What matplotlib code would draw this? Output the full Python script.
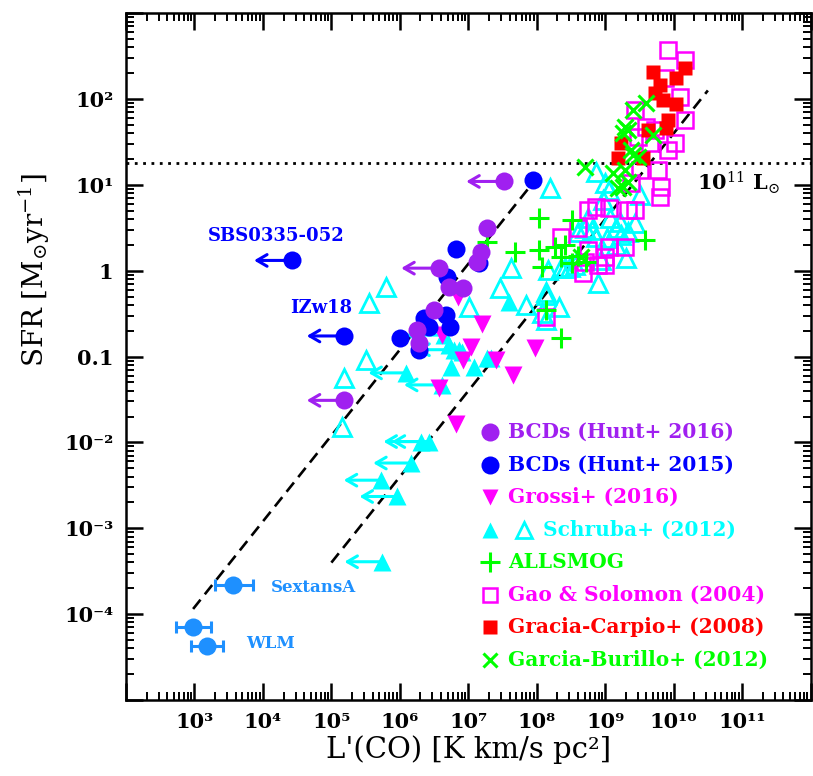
import numpy as np
import matplotlib
matplotlib.use('Agg')
import matplotlib.pyplot as plt

plt.rcParams['font.family'] = ['DejaVu Serif']
plt.rcParams['mathtext.fontset'] = 'dejavuserif'

# all values are log10
# BCDs (Hunt+ 2016)
h16_lco = [7.27, 7.18, 7.12, 6.72, 6.93, 6.50, 6.25, 6.28]
h16_sfr = [0.50, 0.22, 0.10, -0.19, -0.20, -0.46, -0.69, -0.84]
h16_lim_lco = [7.52, 6.57, 5.19]
h16_lim_sfr = [1.04, 0.03, -1.51]

# BCDs (Hunt+ 2015)
h15_lco = [7.95, 6.82, 6.69, 7.15, 6.00, 6.28, 6.43, 6.67, 6.73, 6.35]
h15_sfr = [1.06, 0.25, -0.07, 0.09, -0.78, -0.92, -0.66, -0.52, -0.66, -0.55]
h15_lim_lco = [4.42, 5.19]
h15_lim_sfr = [0.12, -0.76]
h15_lim_names = ['SBS0335-052', 'IZw18']

# local dwarfs with CO
dw_lco = [3.56, 2.975, 3.18]
dw_sfr = [-3.66, -4.15, -4.37]
dw_err_lo = [0.26, 0.25, 0.23]
dw_err_hi = [0.29, 0.26, 0.23]
dw_names = ['SextansA', 'WLM']

# Grossi+ (2016)
gro_lco = [6.85, 7.20, 7.04, 6.93, 6.61, 7.40, 7.66, 7.98, 6.57, 6.82]
gro_sfr = [-0.31, -0.62, -0.89, -1.04, -0.75, -1.04, -1.21, -0.90, -1.37, -1.78]

# Schruba+ (2012) filled: upper limits and detections
sch_lim_lco = [6.31, 6.43, 6.16, 5.73, 5.96, 5.74, 6.09, 6.61, 6.64, 6.79]
sch_lim_sfr = [-1.99, -1.99, -2.24, -2.44, -2.63, -3.39, -1.19, -1.33, -0.75, -0.92]
sch_det_lco = [7.59, 6.72, 6.91, 7.08, 6.75, 7.27, 6.86, 7.33]
sch_det_sfr = [-0.36, -0.86, -0.95, -1.12, -1.12, -1.02, -0.92, -1.02]
# Schruba+ (2012) open
sch_o_lco = [5.80, 5.55, 5.51, 5.19, 5.16, 7.62, 7.47, 7.01, 7.85, 8.20, 8.14, 8.07,
             8.13, 8.32, 8.90, 9.31, 9.44, 9.51, 8.87, 9.05, 8.97, 8.75, 9.22, 9.16,
             8.80, 8.87, 8.61, 9.02, 9.34, 9.16, 8.49, 8.17, 8.42, 8.94, 8.14, 9.00,
             9.07, 8.71, 9.23, 8.36, 8.56]
sch_o_sfr = [-0.19, -0.38, -1.04, -1.25, -1.82, 0.03, -0.20, -0.42, -0.40, 0.96, -0.28, -0.49,
             -0.57, -0.42, -0.14, 0.15, 0.56, 0.88, 1.15, 0.94, 0.82, 0.61, 0.57, 0.50,
             0.47, 0.39, 0.45, 0.38, 0.45, 0.30, 0.04, 0.01, 0.03, 0.12, -0.25, 1.02,
             0.62, 0.50, 0.42, 0.03, 0.07]

# ALLSMOG
all_lco = [8.03, 8.51, 7.27, 7.68, 8.03, 8.27, 8.42, 8.61, 8.72, 8.07, 8.51, 8.36, 9.58, 8.35, 8.13]
all_sfr = [0.61, 0.59, 0.33, 0.22, 0.24, 0.28, 0.30, 0.17, 0.10, 0.04, 0.09, 0.16, 0.36, -0.78, -0.46]

# Gao & Solomon (2004)
gs_lco = [9.92, 10.17, 9.87, 10.09, 10.17, 10.02, 9.92, 9.77, 9.44, 9.60, 9.48, 9.73, 9.66,
          9.51, 9.38, 9.82, 9.80, 8.75, 8.87, 9.05, 9.34, 9.44, 8.36, 8.61, 8.71, 9.00,
          9.05, 8.75, 8.68, 9.00, 9.29, 8.13, 8.90]
gs_sfr = [2.57, 2.45, 2.25, 2.02, 1.75, 1.49, 1.41, 1.17, 1.87, 1.67, 1.56, 1.64, 1.49,
          1.17, 1.02, 0.97, 0.86, 0.71, 0.74, 0.73, 0.71, 0.71, 0.39, 0.50, 0.10, 0.16,
          0.28, 0.24, -0.03, 0.07, 0.28, -0.54, 0.07]

# Gracia-Carpio+ (2008)
gc_lco = [9.70, 10.17, 10.03, 9.80, 9.73, 9.85, 10.03, 9.92, 9.89, 9.63, 9.23, 9.19, 9.55]
gc_sfr = [2.31, 2.36, 2.24, 2.16, 2.07, 1.99, 1.94, 1.75, 1.66, 1.64, 1.49, 1.31, 1.31]

# Garcia-Burillo+ (2012)
gb_lco = [9.60, 9.41, 9.29, 9.26, 9.34, 9.70, 9.38, 9.41, 9.48, 9.29, 9.12, 8.71, 9.34, 9.26, 9.19, 8.64]
gb_sfr = [1.95, 1.87, 1.67, 1.60, 1.64, 1.58, 1.41, 1.35, 1.32, 1.17, 1.14, 1.21, 1.03, 0.97, 0.96, 0.16]

# dashed relations: log SFR = log L'CO + offset
fit_offsets = [-6.92, -8.40]
fit_ranges = [(2.98, 7.95), (5.0, 10.5)]
sfr_lirg = 18.0

x_ticks = [10.0 ** k for k in range(2, 13)]
x_labels = ['', '10³', '10⁴', '10⁵', '10⁶', '10⁷', '10⁸', '10⁹', '10¹⁰', '10¹¹', '']
y_ticks = [10.0 ** k for k in range(-5, 4)]
y_labels = ['', '10⁻⁴', '10⁻³', '10⁻²', '0.1', '1', '10¹', '10²', '']

legend_names = ['BCDs (Hunt+ 2016)', 'BCDs (Hunt+ 2015)', 'Grossi+ (2016)',
                'Schruba+ (2012)', 'ALLSMOG', 'Gao & Solomon (2004)',
                'Gracia-Carpio+ (2008)', 'Garcia-Burillo+ (2012)']

c_h16 = '#A020F0'
c_h15 = '#0000FF'
c_dw = '#1E90FF'
c_mag = '#FF00FF'
c_cy = '#00FFFF'
c_gr = '#00FF00'
c_red = '#FF0000'


def p(v):
    return 10.0 ** np.asarray(v)


def limit_arrows(ax, lx, ly, color, z):
    for x, y in zip(lx, ly):
        ax.annotate('', xy=(10 ** (x - 0.55), 10 ** y), xytext=(10 ** x, 10 ** y),
                    arrowprops=dict(arrowstyle='->,head_length=0.6,head_width=0.35',
                                    color=color, lw=2.2, shrinkA=0, shrinkB=0,
                                    mutation_scale=12),
                    zorder=z)


fig = plt.figure(figsize=(8.13, 7.76), dpi=100)
ax = fig.add_axes([0.155, 0.098, 0.842, 0.885])
ax.set_xscale('log')
ax.set_yscale('log')

# relations
for off, (a, b) in zip(fit_offsets, fit_ranges):
    lx = np.array([a, b])
    ax.plot(p(lx), p(lx + off), color='black', lw=1.9, ls=(0, (4.5, 2.6)), zorder=1)
ax.axhline(sfr_lirg, color='black', lw=2, ls=(0, (1, 2)), zorder=1)
ax.text(10 ** 11.55, 10 ** 1.02, r'10$^{11}$ L$_{\odot}$', fontsize=15, fontweight='bold',
        ha='right', va='center')

# big samples
ax.plot(p(sch_o_lco), p(sch_o_sfr), ls='none', marker='^', ms=13, mfc='none',
        mec=c_cy, mew=2, zorder=2)
ax.plot(p(gs_lco), p(gs_sfr), ls='none', marker='s', ms=11, mfc='none',
        mec=c_mag, mew=1.8, zorder=2.1)
ax.plot(p(all_lco), p(all_sfr), ls='none', marker='+', ms=15, mec=c_gr, mew=2.2, zorder=2.2)
ax.plot(p(gc_lco), p(gc_sfr), ls='none', marker='s', ms=10.5, color=c_red, mec='none', zorder=2.3)
ax.plot(p(gb_lco), p(gb_sfr), ls='none', marker='x', ms=11, mec=c_gr, mew=2.2, zorder=2.4)

# dwarfs
limit_arrows(ax, sch_lim_lco, sch_lim_sfr, c_cy, 2.5)
ax.plot(p(sch_lim_lco), p(sch_lim_sfr), ls='none', marker='^', ms=13, color=c_cy, mec='none', zorder=2.6)
ax.plot(p(sch_det_lco), p(sch_det_sfr), ls='none', marker='^', ms=13, color=c_cy, mec='none', zorder=2.6)
ax.plot(p(gro_lco), p(gro_sfr), ls='none', marker='v', ms=12.5, color=c_mag, mec='none', zorder=2.7)

limit_arrows(ax, h15_lim_lco, h15_lim_sfr, c_h15, 2.8)
ax.plot(p(h15_lco + h15_lim_lco), p(h15_sfr + h15_lim_sfr), ls='none', marker='o', ms=13,
        color=c_h15, mec='none', zorder=2.9)
limit_arrows(ax, h16_lim_lco, h16_lim_sfr, c_h16, 3.0)
ax.plot(p(h16_lco + h16_lim_lco), p(h16_sfr + h16_lim_sfr), ls='none', marker='o', ms=13,
        color=c_h16, mec='none', zorder=3.1)

dw_x = p(dw_lco)
xerr = [dw_x - p(np.array(dw_lco) - np.array(dw_err_lo)),
        p(np.array(dw_lco) + np.array(dw_err_hi)) - dw_x]
ax.errorbar(dw_x, p(dw_sfr), xerr=xerr, ls='none', marker='o', ms=13, color=c_dw,
            mec='none', elinewidth=2.2, capsize=4, capthick=2.2, zorder=3)

# names
ax.text(10 ** 4.20, 10 ** 0.40, h15_lim_names[0], color=c_h15, fontsize=13,
        fontweight='bold', ha='center', va='center')
ax.text(10 ** 4.85, 10 ** -0.44, h15_lim_names[1], color=c_h15, fontsize=13,
        fontweight='bold', ha='center', va='center')
ax.text(10 ** 4.12, 10 ** -3.69, dw_names[0], color=c_dw, fontsize=12,
        fontweight='bold', ha='left', va='center')
ax.text(10 ** 3.75, 10 ** -4.34, dw_names[1], color=c_dw, fontsize=12,
        fontweight='bold', ha='left', va='center')

# hand-made legend
leg_colors = [c_h16, c_h15, c_mag, c_cy, c_gr, c_mag, c_red, c_gr]
leg_x = 0.531
for i, (name, col) in enumerate(zip(legend_names, leg_colors)):
    y = 0.390 - i * 0.0473
    tx = 0.558
    if i == 0 or i == 1:
        ax.plot([leg_x], [y], 'o', ms=13, color=col, mec='none', transform=ax.transAxes)
    elif i == 2:
        ax.plot([leg_x], [y], 'v', ms=11, color=col, mec='none', transform=ax.transAxes)
    elif i == 3:
        ax.plot([leg_x], [y], '^', ms=11, color=col, mec='none', transform=ax.transAxes)
        ax.plot([0.582], [y], '^', ms=11, mfc='none', mec=col, mew=2, transform=ax.transAxes)
        tx = 0.609
    elif i == 4:
        ax.plot([leg_x], [y], '+', ms=14, mec=col, mew=2.2, transform=ax.transAxes)
    elif i == 5:
        ax.plot([leg_x], [y], 's', ms=10, mfc='none', mec=col, mew=1.8, transform=ax.transAxes)
    elif i == 6:
        ax.plot([leg_x], [y], 's', ms=9.5, color=col, mec='none', transform=ax.transAxes)
    else:
        ax.plot([leg_x], [y], 'x', ms=10, mec=col, mew=2.2, transform=ax.transAxes)
    ax.text(tx, y, name, color=col, fontsize=14.5, fontweight='bold',
            ha='left', va='center', transform=ax.transAxes)

ax.set_xlim(1e2, 1e12)
ax.set_ylim(1e-5, 1e3)
ax.set_xticks(x_ticks, x_labels)
ax.set_yticks(y_ticks, y_labels)
ax.xaxis.set_minor_locator(matplotlib.ticker.LogLocator(base=10, subs=np.arange(2, 10), numticks=20))
ax.yaxis.set_minor_locator(matplotlib.ticker.LogLocator(base=10, subs=np.arange(2, 10), numticks=20))
ax.xaxis.set_minor_formatter(matplotlib.ticker.NullFormatter())
ax.yaxis.set_minor_formatter(matplotlib.ticker.NullFormatter())
ax.tick_params(which='both', direction='in', top=True, right=True)
ax.tick_params(which='major', length=12, width=1.8, labelsize=15, pad=9)
ax.tick_params(which='minor', length=6, width=1.4)
for lab in ax.get_xticklabels() + ax.get_yticklabels():
    lab.set_fontweight('bold')
for s in ax.spines.values():
    s.set_linewidth(1.8)

ax.set_xlabel("L'(CO) [K km/s pc²]", fontsize=21, labelpad=2)
ax.set_ylabel(r'SFR [M$_{\odot}$yr$^{-1}$]', fontsize=20)
ax.yaxis.set_label_coords(-0.108, 0.626)

fig.savefig('out.png', dpi=100)
